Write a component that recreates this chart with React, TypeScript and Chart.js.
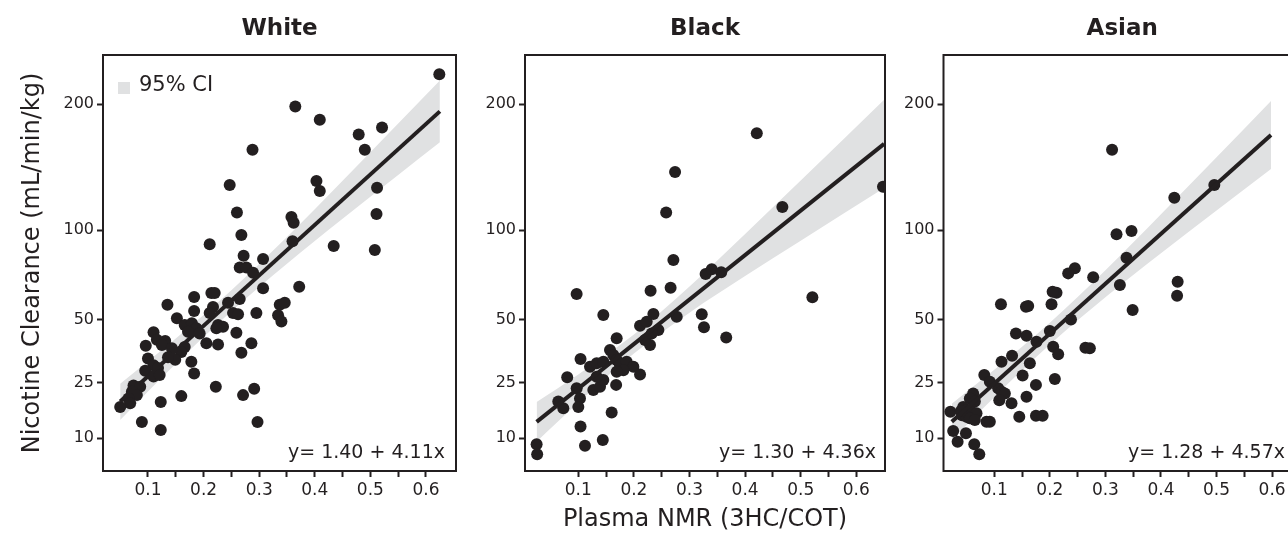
import React, { useEffect, useRef } from 'react';
import { Chart, registerables } from 'chart.js';

Chart.register(...registerables);

const FONT = '"DejaVu Sans", sans-serif';
const INK = '#231f20';
const BAND = '#e0e1e2';

// shared axis definitions
const xTickValues = [0.1, 0.15, 0.2, 0.25, 0.3, 0.35, 0.4, 0.45, 0.5, 0.55, 0.6];
const yTickValues = [10, 25, 50, 100, 200];
const yMin = 4.36;
const yMax = 248.5;
const yTitle = 'Nicotine Clearance (mL/min/kg)';
const xTitle = 'Plasma NMR (3HC/COT)';

// White
const whiteX = [0.288, 0.247, 0.260, 0.268, 0.211, 0.272, 0.307, 0.265, 0.277, 0.289, 0.307, 0.183, 0.214, 0.220, 0.244, 0.135, 0.265, 0.183, 0.217, 0.211, 0.253, 0.262, 0.295, 0.152, 0.166, 0.179, 0.187, 0.172, 0.226, 0.235, 0.223, 0.110, 0.193, 0.205, 0.259, 0.116, 0.131, 0.125, 0.096, 0.166, 0.160, 0.226, 0.286, 0.143, 0.149, 0.136, 0.268, 0.100, 0.178, 0.183, 0.110, 0.118, 0.095, 0.110, 0.121, 0.222, 0.291, 0.074, 0.086, 0.271, 0.160, 0.071, 0.080, 0.065, 0.068, 0.050, 0.123, 0.089, 0.123, 0.297, 0.624, 0.365, 0.409, 0.479, 0.521, 0.490, 0.403, 0.409, 0.512, 0.511, 0.358, 0.362, 0.360, 0.434, 0.508, 0.372, 0.337, 0.346, 0.334, 0.340];
const whiteY = [160, 132, 112, 97, 91, 84, 82, 77, 77, 74, 65.5, 61, 63, 63, 58, 57, 60, 54, 56, 53, 53, 52.4, 53, 50.5, 47.4, 48.2, 46, 44.4, 47.4, 46.7, 46, 44.2, 43.7, 39.5, 44, 41, 40.5, 38.8, 38.5, 38, 36, 39, 39.5, 37.5, 33, 34, 35.7, 33.5, 32.3, 28, 31, 30, 29, 27, 27.5, 23.6, 23, 24, 23.6, 21, 20.7, 22, 21, 20, 18.6, 17.6, 19, 13.7, 11.8, 13.7, 229, 198, 186, 173, 179, 160, 135, 127.5, 130, 111, 109, 105, 93, 90, 87.5, 66.4, 57, 58, 52, 49];
const whiteLineX = [0.05, 0.625];
const whiteLineY = [19.1, 193.5];
const whiteBandX = [0.05, 0.15, 0.25, 0.35, 0.45, 0.55, 0.625];
const whiteBandLow = [14.2, 31.5, 53.9, 79.3, 107.7, 139.7, 166.2];
const whiteBandHigh = [24.6, 41.5, 64.5, 95.6, 135.2, 182.5, 222.8];

// Black
const blackX = [0.274, 0.258, 0.271, 0.266, 0.230, 0.097, 0.145, 0.211, 0.235, 0.223, 0.277, 0.244, 0.169, 0.104, 0.121, 0.133, 0.145, 0.157, 0.163, 0.169, 0.175, 0.187, 0.199, 0.181, 0.169, 0.220, 0.229, 0.232, 0.211, 0.080, 0.097, 0.103, 0.100, 0.127, 0.139, 0.145, 0.133, 0.168, 0.064, 0.073, 0.160, 0.104, 0.112, 0.144, 0.025, 0.026, 0.421, 0.467, 0.329, 0.340, 0.357, 0.521, 0.322, 0.326, 0.366, 0.648];
const blackY = [142, 112, 81.4, 65.8, 64.2, 62.5, 52.1, 47.1, 52.5, 48.9, 51.3, 45.2, 41.6, 33.3, 30.4, 31.7, 32.3, 36.8, 34.8, 32.9, 31.0, 32.3, 30.4, 29.2, 28.6, 40.9, 38.8, 43.7, 27.7, 26.7, 23.1, 20.0, 17.6, 22.6, 23.6, 25.8, 26.9, 24.2, 19.1, 17.2, 16.1, 12.6, 8.5, 9.65, 8.8, 6.95, 174, 116, 73.3, 76, 74.3, 60.8, 52.4, 46.4, 41.9, 130.7];
const blackLineX = [0.025, 0.65];
const blackLineY = [13.7, 164.9];
const blackBandX = [0.025, 0.1, 0.2, 0.3, 0.4, 0.5, 0.65];
const blackBandLow = [9.29, 18.8, 35.4, 53.2, 72.2, 93.3, 129.7];
const blackBandHigh = [19.0, 27.7, 43.2, 66.5, 97.6, 135.4, 204.3];

// Asian
const asianX = [0.245, 0.233, 0.212, 0.205, 0.112, 0.161, 0.157, 0.203, 0.238, 0.139, 0.158, 0.200, 0.176, 0.206, 0.215, 0.264, 0.272, 0.113, 0.132, 0.164, 0.082, 0.092, 0.151, 0.175, 0.209, 0.107, 0.113, 0.119, 0.062, 0.056, 0.065, 0.044, 0.050, 0.059, 0.068, 0.109, 0.131, 0.158, 0.042, 0.050, 0.056, 0.065, 0.086, 0.092, 0.021, 0.040, 0.145, 0.175, 0.187, 0.026, 0.049, 0.034, 0.064, 0.073, 0.312, 0.424, 0.496, 0.320, 0.347, 0.338, 0.278, 0.326, 0.430, 0.429, 0.349];
const asianY = [76.6, 73.7, 63.2, 63.7, 57.3, 56.4, 56.1, 57.3, 50.0, 43.7, 42.7, 44.8, 40.2, 38.1, 35.1, 37.7, 37.5, 32.3, 34.5, 31.7, 27.5, 25.2, 27.3, 24.2, 26.1, 23.1, 22.0, 21.5, 21.5, 20.0, 19.1, 17.6, 16.75, 16.3, 15.9, 19.5, 18.6, 20.5, 15.4, 15.0, 14.6, 14.2, 13.75, 13.75, 16.3, 16.5, 15.0, 15.25, 15.25, 11.6, 11.07, 9.3, 8.8, 6.95, 160, 122.6, 132, 97.4, 99.5, 82.8, 71.5, 67.3, 69.1, 61.6, 54.5];
const asianLineX = [0.0235, 0.598];
const asianLineY = [13.75, 172.5];
const asianBandX = [0.0235, 0.1, 0.2, 0.3, 0.4, 0.5, 0.598];
const asianBandLow = [9.71, 20.4, 39.0, 60.8, 85.5, 113.4, 144.4];
const asianBandHigh = [18.5, 29.3, 48.5, 75.5, 110.8, 153.8, 203.1];

type PanelProps = {
  title: string;
  xs: number[];
  ys: number[];
  lineX: number[];
  lineY: number[];
  bandX: number[];
  bandLow: number[];
  bandHigh: number[];
  equation: string;
  xMin: number;
  xMax: number;
  left: number;
  width: number;
  yAxisWidth: number;
  padRight: number;
  eqInset: number;
  showYTitle: boolean;
  showXTitle: boolean;
  showLegend: boolean;
};

const H = 546;

function Panel(p: PanelProps) {
  const ref = useRef<HTMLCanvasElement | null>(null);
  useEffect(() => {
    const sq = Math.sqrt;
    const pts = (xs: number[], ys: number[]) => xs.map((x, i) => ({ x, y: sq(ys[i]) }));
    const framePlugin = {
      id: 'frame',
      afterDraw(chart: any) {
        const { ctx, chartArea: a } = chart;
        ctx.save();
        ctx.strokeStyle = INK;
        ctx.lineWidth = 2;
        ctx.strokeRect(a.left, a.top, a.right - a.left, a.bottom - a.top);
        ctx.fillStyle = INK;
        ctx.font = `19px ${FONT}`;
        ctx.textAlign = 'right';
        ctx.textBaseline = 'alphabetic';
        ctx.fillText(p.equation, a.right - p.eqInset, a.bottom - 13.5);
        if (p.showLegend) {
          ctx.fillStyle = BAND;
          ctx.fillRect(a.left + 15, a.top + 27, 12, 12);
          ctx.fillStyle = INK;
          ctx.font = `21px ${FONT}`;
          ctx.textAlign = 'left';
          ctx.fillText('95% CI', a.left + 36, a.top + 35.7);
        }
        ctx.restore();
      },
    };
    const chart = new Chart(ref.current as HTMLCanvasElement, {
      type: 'scatter',
      data: {
        datasets: [
          {
            label: '95% CI',
            data: pts(p.bandX, p.bandHigh),
            showLine: true,
            borderWidth: 0,
            pointRadius: 0,
            backgroundColor: BAND,
            borderColor: BAND,
            fill: '+1',
            cubicInterpolationMode: 'monotone',
            order: 3,
          } as any,
          {
            label: 'lower',
            data: pts(p.bandX, p.bandLow),
            showLine: true,
            borderWidth: 0,
            pointRadius: 0,
            borderColor: BAND,
            fill: false,
            cubicInterpolationMode: 'monotone',
            order: 3,
          } as any,
          {
            label: 'points',
            data: pts(p.xs, p.ys),
            pointRadius: 6,
            pointBackgroundColor: INK,
            backgroundColor: INK,
            pointBorderWidth: 0,
            borderWidth: 0,
            clip: 0,
            order: 2,
          } as any,
          {
            label: 'fit',
            data: pts(p.lineX, p.lineY),
            showLine: true,
            borderColor: INK,
            borderWidth: 4,
            pointRadius: 0,
            fill: false,
            order: 1,
          } as any,
        ],
      },
      options: {
        animation: false,
        responsive: false,
        maintainAspectRatio: false,
        events: [],
        layout: { padding: { left: 0, top: 0, right: p.padRight, bottom: 0 } },
        plugins: {
          legend: { display: false },
          tooltip: { enabled: false },
          title: {
            display: true,
            text: p.title,
            color: INK,
            fullSize: false,
            font: { family: FONT, size: 23, weight: 'bold' },
            padding: { top: 15.7, bottom: 11.7 },
          },
        },
        scales: {
          x: {
            type: 'linear',
            min: p.xMin,
            max: p.xMax,
            afterBuildTicks: (s: any) => {
              s.ticks = xTickValues.map((v) => ({ value: v }));
            },
            afterFit: (s: any) => {
              s.height = H - 471;
            },
            ticks: {
              autoSkip: false,
              maxRotation: 0,
              padding: 3,
              color: INK,
              font: { family: FONT, size: 17 },
              callback: (v: any) => {
                const n = Number(v);
                return Math.abs(n * 10 - Math.round(n * 10)) < 1e-6 ? n.toFixed(1) : '';
              },
            },
            grid: { drawOnChartArea: false, drawTicks: true, tickLength: 6, tickWidth: 2, tickColor: INK },
            border: { display: false },
            title: {
              display: p.showXTitle,
              text: xTitle,
              color: INK,
              font: { family: FONT, size: 24 },
              padding: { top: 0, bottom: 12.1 },
            },
          },
          y: {
            type: 'linear',
            min: Math.sqrt(yMin),
            max: Math.sqrt(yMax),
            afterBuildTicks: (s: any) => {
              s.ticks = yTickValues.map((v) => ({ value: Math.sqrt(v) }));
            },
            afterFit: (s: any) => {
              s.width = p.yAxisWidth;
            },
            ticks: {
              padding: 3,
              color: INK,
              font: { family: FONT, size: 16 },
              callback: (v: any) => String(Math.round(Number(v) * Number(v))),
            },
            grid: { drawOnChartArea: false, drawTicks: true, tickLength: 6, tickWidth: 2, tickColor: INK },
            border: { display: false },
            title: {
              display: p.showYTitle,
              text: yTitle,
              color: INK,
              font: { family: FONT, size: 24 },
              padding: { top: 18.6, bottom: 0 },
            },
          },
        },
      } as any,
      plugins: [framePlugin],
    });
    return () => chart.destroy();
  }, []);
  return (
    <canvas
      ref={ref}
      width={p.width}
      height={H}
      style={{ position: 'absolute', left: p.left, top: 0, width: p.width, height: H }}
    />
  );
}

export default function App() {
  return (
    <div
      style={{
        position: 'fixed',
        left: 0,
        top: 0,
        width: 1288,
        height: H,
        overflow: 'hidden',
        background: '#ffffff',
      }}
    >
      <Panel
        title="White"
        xs={whiteX}
        ys={whiteY}
        lineX={whiteLineX}
        lineY={whiteLineY}
        bandX={whiteBandX}
        bandLow={whiteBandLow}
        bandHigh={whiteBandHigh}
        equation="y= 1.40 + 4.11x"
        xMin={0.0191}
        xMax={0.654}
        left={0}
        width={470}
        yAxisWidth={103}
        padRight={14}
        eqInset={11}
        showYTitle={true}
        showXTitle={false}
        showLegend={true}
      />
      <Panel
        title="Black"
        xs={blackX}
        ys={blackY}
        lineX={blackLineX}
        lineY={blackLineY}
        bandX={blackBandX}
        bandLow={blackBandLow}
        bandHigh={blackBandHigh}
        equation="y= 1.30 + 4.36x"
        xMin={0.0041}
        xMax={0.6516}
        left={470}
        width={430}
        yAxisWidth={55}
        padRight={15}
        eqInset={9}
        showYTitle={false}
        showXTitle={true}
        showLegend={false}
      />
      <Panel
        title="Asian"
        xs={asianX}
        ys={asianY}
        lineX={asianLineX}
        lineY={asianLineY}
        bandX={asianBandX}
        bandLow={asianBandLow}
        bandHigh={asianBandHigh}
        equation="y= 1.28 + 4.57x"
        xMin={0.0086}
        xMax={0.652}
        left={900}
        width={420}
        yAxisWidth={43.5}
        padRight={19}
        eqInset={16}
        showYTitle={false}
        showXTitle={false}
        showLegend={false}
      />
    </div>
  );
}
